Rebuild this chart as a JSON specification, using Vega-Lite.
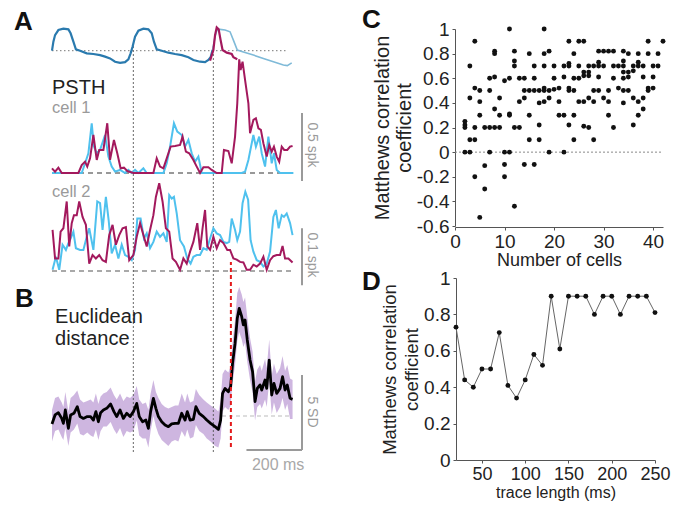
{
"$schema": "https://vega.github.io/schema/vega-lite/v6.json",
"width": 673, "height": 506, "padding": 0, "autosize": {"type": "none"},
"background": "white",
"config": {"font": "Liberation Sans", "view": {"stroke": null}, "axis": {"grid": false}},
"resolve": {"scale": {"x": "independent", "y": "independent"}},
"datasets": {
"a_dark": [{"t":0,"v":0},{"t":5,"v":0.41},{"t":11,"v":0.71},{"t":23,"v":0.94},{"t":41,"v":1.0},{"t":59,"v":0.97},{"t":67,"v":0.79},{"t":77,"v":0.41},{"t":86,"v":0.06},{"t":101,"v":0},{"t":125,"v":-0.12},{"t":149,"v":-0.15},{"t":173,"v":-0.2},{"t":191,"v":-0.27},{"t":209,"v":-0.35},{"t":227,"v":-0.5},{"t":245,"v":-0.55},{"t":263,"v":-0.52},{"t":275,"v":-0.39},{"t":283,"v":-0.12},{"t":290,"v":0.18},{"t":299,"v":0.64},{"t":311,"v":0.91},{"t":329,"v":1.0},{"t":347,"v":0.97},{"t":359,"v":0.79},{"t":367,"v":0.41},{"t":377,"v":0.06},{"t":395,"v":0},{"t":419,"v":-0.09},{"t":443,"v":-0.15},{"t":467,"v":-0.2},{"t":491,"v":-0.3},{"t":509,"v":-0.42},{"t":533,"v":-0.5},{"t":551,"v":-0.52},{"t":563,"v":-0.42},{"t":571,"v":-0.3},{"t":578,"v":0.03}],
"a_light": [{"t":578,"v":0.03},{"t":587,"v":0.64},{"t":593,"v":0.91},{"t":605,"v":0.97},{"t":623,"v":0.94},{"t":641,"v":0.86},{"t":653,"v":0.48},{"t":667,"v":0.03},{"t":689,"v":-0.06},{"t":725,"v":-0.2},{"t":761,"v":-0.35},{"t":797,"v":-0.5},{"t":833,"v":-0.65},{"t":847,"v":-0.68},{"t":863,"v":-0.55}],
"a_mag": [{"t":569,"v":-0.45},{"t":581,"v":0.03},{"t":587,"v":0.71},{"t":593,"v":1.06},{"t":600,"v":0.97},{"t":607,"v":0.48},{"t":614,"v":0.03},{"t":629,"v":-0.09},{"t":647,"v":-0.15},{"t":653,"v":-0.3},{"t":667,"v":-0.39}],
"c1_mag": [{"t":0,"r":0.035},{"t":11,"r":0.01},{"t":23,"r":0.04},{"t":35,"r":0},{"t":95,"r":0},{"t":107,"r":0.06},{"t":119,"r":0.085},{"t":127,"r":0.048},{"t":137,"r":0.11},{"t":149,"r":0.285},{"t":161,"r":0.098},{"t":170,"r":0.173},{"t":185,"r":0.173},{"t":199,"r":0.373},{"t":209,"r":0.098},{"t":223,"r":0.248},{"t":235,"r":0.148},{"t":247,"r":0.035},{"t":259,"r":0.04},{"t":271,"r":0.015},{"t":293,"r":0},{"t":365,"r":0},{"t":377,"r":0.11},{"t":389,"r":0.048},{"t":401,"r":0.035},{"t":413,"r":0.11},{"t":427,"r":0.198},{"t":443,"r":0.203},{"t":461,"r":0.21},{"t":470,"r":0.273},{"t":482,"r":0.16},{"t":494,"r":0.148},{"t":509,"r":0.098},{"t":521,"r":0.048},{"t":533,"r":0},{"t":545,"r":0.043},{"t":563,"r":0.043},{"t":575,"r":0.023},{"t":593,"r":0},{"t":611,"r":0},{"t":619,"r":0.173},{"t":635,"r":0.165},{"t":647,"r":0.073},{"t":659,"r":0.273},{"t":667,"r":0.523},{"t":674,"r":0.853},{"t":679,"r":0.773},{"t":686,"r":0.835},{"t":695,"r":0.698},{"t":707,"r":0.523},{"t":713,"r":0.298},{"t":725,"r":0.398},{"t":734,"r":0.41},{"t":743,"r":0.335},{"t":752,"r":0.323},{"t":761,"r":0.223},{"t":773,"r":0.123},{"t":782,"r":0.21},{"t":791,"r":0.16},{"t":799,"r":0.198},{"t":809,"r":0.123},{"t":818,"r":0.085},{"t":827,"r":0.198},{"t":836,"r":0.173},{"t":847,"r":0.173},{"t":857,"r":0.198},{"t":866,"r":0.203}],
"c1_cyan": [{"t":0,"r":0},{"t":107,"r":0},{"t":119,"r":0.073},{"t":131,"r":0.148},{"t":143,"r":0.373},{"t":151,"r":0.198},{"t":161,"r":0.148},{"t":173,"r":0.173},{"t":191,"r":0.285},{"t":203,"r":0.123},{"t":215,"r":0.048},{"t":227,"r":0.01},{"t":245,"r":0.023},{"t":263,"r":0},{"t":275,"r":0.023},{"t":287,"r":0},{"t":299,"r":0.023},{"t":311,"r":0},{"t":329,"r":0.035},{"t":341,"r":0},{"t":401,"r":0},{"t":413,"r":0.073},{"t":425,"r":0.198},{"t":439,"r":0.373},{"t":451,"r":0.31},{"t":467,"r":0.285},{"t":479,"r":0.198},{"t":491,"r":0.248},{"t":503,"r":0.148},{"t":515,"r":0.085},{"t":527,"r":0.123},{"t":539,"r":0},{"t":683,"r":0},{"t":695,"r":0.01},{"t":707,"r":0.098},{"t":725,"r":0.285},{"t":734,"r":0.198},{"t":746,"r":0.273},{"t":755,"r":0.148},{"t":767,"r":0.048},{"t":779,"r":0.273},{"t":791,"r":0.073},{"t":799,"r":0.148},{"t":809,"r":0.023},{"t":821,"r":0},{"t":869,"r":0}],
"c2_mag": [{"t":2,"r":0.072},{"t":11,"r":0.022},{"t":23,"r":0.022},{"t":31,"r":0.069},{"t":41,"r":0.075},{"t":53,"r":0.122},{"t":62,"r":0.043},{"t":71,"r":0.084},{"t":79,"r":0.098},{"t":89,"r":0.098},{"t":98,"r":0.122},{"t":110,"r":0.095},{"t":122,"r":0.081},{"t":134,"r":0.013},{"t":146,"r":0.028},{"t":158,"r":0.022},{"t":170,"r":0.028},{"t":182,"r":0.019},{"t":194,"r":0.016},{"t":206,"r":0.063},{"t":218,"r":0.081},{"t":230,"r":0.046},{"t":242,"r":0.063},{"t":254,"r":0.075},{"t":266,"r":0.077},{"t":278,"r":0.019},{"t":293,"r":0.028},{"t":305,"r":0.06},{"t":317,"r":0.084},{"t":329,"r":0.063},{"t":341,"r":0.043},{"t":353,"r":0.072},{"t":365,"r":0.098},{"t":374,"r":0.13},{"t":386,"r":0.154},{"t":398,"r":0.122},{"t":410,"r":0.075},{"t":422,"r":0.069},{"t":434,"r":0.022},{"t":446,"r":0.016},{"t":461,"r":0.002},{"t":473,"r":0.022},{"t":485,"r":0.013},{"t":497,"r":0.034},{"t":509,"r":0.051},{"t":523,"r":0.084},{"t":533,"r":0.037},{"t":542,"r":0.075},{"t":551,"r":0.107},{"t":559,"r":0.043},{"t":569,"r":0.037},{"t":581,"r":0.06},{"t":593,"r":0.04},{"t":605,"r":0.054},{"t":617,"r":0.049},{"t":631,"r":0.037},{"t":641,"r":0.037},{"t":653,"r":0.022},{"t":665,"r":0.02},{"t":677,"r":0.016},{"t":689,"r":0.015},{"t":701,"r":0.002},{"t":713,"r":0.002},{"t":725,"r":0.011},{"t":737,"r":0.008},{"t":749,"r":0.013},{"t":761,"r":0.025},{"t":773,"r":0.002},{"t":785,"r":0.019},{"t":797,"r":0.026},{"t":809,"r":0.028},{"t":821,"r":0.028},{"t":830,"r":0.044},{"t":839,"r":0.022},{"t":851,"r":0.022},{"t":866,"r":0.015}],
"c2_cyan": [{"t":2,"r":0.002},{"t":14,"r":0.025},{"t":26,"r":0.002},{"t":38,"r":0.046},{"t":50,"r":0.037},{"t":59,"r":0.049},{"t":67,"r":0.057},{"t":77,"r":0.069},{"t":86,"r":0.04},{"t":101,"r":0.037},{"t":113,"r":0.037},{"t":125,"r":0.06},{"t":134,"r":0.075},{"t":149,"r":0.037},{"t":163,"r":0.122},{"t":173,"r":0.119},{"t":182,"r":0.072},{"t":194,"r":0.13},{"t":204,"r":0.089},{"t":215,"r":0.031},{"t":227,"r":0.046},{"t":239,"r":0.022},{"t":251,"r":0.046},{"t":263,"r":0.028},{"t":275,"r":0.025},{"t":287,"r":0.019},{"t":299,"r":0.037},{"t":307,"r":0.092},{"t":319,"r":0.092},{"t":331,"r":0.057},{"t":341,"r":0.066},{"t":353,"r":0.04},{"t":365,"r":0.051},{"t":377,"r":0.069},{"t":389,"r":0.06},{"t":401,"r":0.066},{"t":413,"r":0.051},{"t":422,"r":0.133},{"t":431,"r":0.127},{"t":439,"r":0.13},{"t":449,"r":0.101},{"t":461,"r":0.054},{"t":475,"r":0.043},{"t":487,"r":0.022},{"t":499,"r":0.013},{"t":509,"r":0.025},{"t":521,"r":0.028},{"t":533,"r":0.028},{"t":545,"r":0.04},{"t":557,"r":0.037},{"t":569,"r":0.057},{"t":581,"r":0.075},{"t":593,"r":0.066},{"t":605,"r":0.063},{"t":617,"r":0.051},{"t":629,"r":0.049},{"t":638,"r":0.051},{"t":647,"r":0.092},{"t":659,"r":0.072},{"t":667,"r":0.054},{"t":677,"r":0.069},{"t":686,"r":0.119},{"t":696,"r":0.139},{"t":706,"r":0.125},{"t":715,"r":0.054},{"t":725,"r":0.034},{"t":737,"r":0.019},{"t":749,"r":0.016},{"t":761,"r":0.008},{"t":773,"r":0.013},{"t":785,"r":0.034},{"t":797,"r":0.095},{"t":806,"r":0.107},{"t":816,"r":0.075},{"t":827,"r":0.098},{"t":835,"r":0.095},{"t":845,"r":0.101},{"t":857,"r":0.084},{"t":866,"r":0.063}],
"bdist": [{"t":0,"v":-0.53,"lo":-1.7,"hi":0.4},{"t":11,"v":0.07,"lo":-1.0,"hi":1.2},{"t":23,"v":0.22,"lo":-0.9,"hi":1.3},{"t":35,"v":-0.16,"lo":-1.4,"hi":0.9},{"t":41,"v":-0.49,"lo":-1.6,"hi":0.6},{"t":48,"v":0.4,"lo":-0.8,"hi":1.6},{"t":59,"v":-0.82,"lo":-2.0,"hi":0.3},{"t":67,"v":0.07,"lo":-1.1,"hi":1.2},{"t":79,"v":0.18,"lo":-0.9,"hi":1.4},{"t":91,"v":0.62,"lo":-0.5,"hi":1.7},{"t":101,"v":-0.04,"lo":-1.2,"hi":1.1},{"t":113,"v":-0.16,"lo":-1.3,"hi":0.9},{"t":127,"v":-0.04,"lo":-1.1,"hi":1.0},{"t":139,"v":-0.04,"lo":-1.3,"hi":1.1},{"t":149,"v":-0.27,"lo":-1.4,"hi":0.9},{"t":158,"v":0.29,"lo":-0.9,"hi":1.5},{"t":167,"v":-0.38,"lo":-1.6,"hi":0.8},{"t":175,"v":0.22,"lo":-1.0,"hi":1.3},{"t":185,"v":0.4,"lo":-0.7,"hi":1.5},{"t":197,"v":0.51,"lo":-0.7,"hi":1.6},{"t":211,"v":0.8,"lo":-0.4,"hi":1.9},{"t":223,"v":0.29,"lo":-0.9,"hi":1.4},{"t":233,"v":-0.04,"lo":-1.2,"hi":1.1},{"t":245,"v":0.4,"lo":-0.8,"hi":1.5},{"t":257,"v":-0.16,"lo":-1.4,"hi":1.0},{"t":269,"v":0.18,"lo":-1.0,"hi":1.3},{"t":281,"v":-0.04,"lo":-1.1,"hi":1.2},{"t":293,"v":0.29,"lo":-1.0,"hi":1.4},{"t":305,"v":0.84,"lo":-0.3,"hi":2.0},{"t":314,"v":-0.04,"lo":-1.3,"hi":1.1},{"t":326,"v":-0.38,"lo":-1.5,"hi":0.8},{"t":338,"v":-0.27,"lo":-1.5,"hi":0.9},{"t":347,"v":-0.82,"lo":-2.1,"hi":0.4},{"t":355,"v":0.29,"lo":-1.0,"hi":1.5},{"t":365,"v":1.18,"lo":0.0,"hi":2.4},{"t":374,"v":0.51,"lo":-0.7,"hi":1.6},{"t":383,"v":-0.04,"lo":-1.2,"hi":1.2},{"t":395,"v":-0.38,"lo":-1.6,"hi":0.8},{"t":407,"v":-0.6,"lo":-1.8,"hi":0.6},{"t":419,"v":-0.71,"lo":-2.0,"hi":0.5},{"t":431,"v":-0.53,"lo":-1.7,"hi":0.6},{"t":443,"v":-0.49,"lo":-1.6,"hi":0.7},{"t":455,"v":-0.49,"lo":-1.7,"hi":0.7},{"t":467,"v":0.18,"lo":-1.0,"hi":1.5},{"t":479,"v":-0.27,"lo":-1.4,"hi":0.9},{"t":487,"v":0.29,"lo":-0.9,"hi":1.5},{"t":497,"v":-0.27,"lo":-1.5,"hi":0.9},{"t":509,"v":-0.22,"lo":-1.4,"hi":1.0},{"t":518,"v":0.62,"lo":-0.6,"hi":1.8},{"t":530,"v":0.18,"lo":-1.0,"hi":1.4},{"t":545,"v":-0.04,"lo":-1.2,"hi":1.1},{"t":557,"v":-0.27,"lo":-1.5,"hi":0.9},{"t":571,"v":-0.49,"lo":-1.7,"hi":0.7},{"t":587,"v":-0.71,"lo":-2.0,"hi":0.5},{"t":599,"v":-0.89,"lo":-2.1,"hi":0.3},{"t":607,"v":-0.27,"lo":-1.5,"hi":1.0},{"t":614,"v":1.51,"lo":0.3,"hi":2.8},{"t":623,"v":1.84,"lo":0.6,"hi":3.1},{"t":635,"v":1.62,"lo":0.4,"hi":2.9},{"t":643,"v":1.96,"lo":0.7,"hi":3.3},{"t":650,"v":3.51,"lo":2.2,"hi":4.9},{"t":659,"v":4.84,"lo":3.4,"hi":6.4},{"t":667,"v":6.51,"lo":5.0,"hi":8.2},{"t":674,"v":7.18,"lo":5.6,"hi":8.6},{"t":683,"v":6.62,"lo":5.1,"hi":8.1},{"t":689,"v":6.07,"lo":4.6,"hi":7.6},{"t":695,"v":6.4,"lo":4.9,"hi":7.9},{"t":703,"v":5.07,"lo":3.6,"hi":6.6},{"t":713,"v":3.73,"lo":2.4,"hi":5.2},{"t":722,"v":2.96,"lo":1.6,"hi":4.3},{"t":731,"v":0.96,"lo":-0.3,"hi":2.3},{"t":739,"v":1.84,"lo":0.6,"hi":3.1},{"t":749,"v":2.07,"lo":0.8,"hi":3.4},{"t":755,"v":1.73,"lo":0.5,"hi":3.0},{"t":767,"v":2.4,"lo":1.1,"hi":3.8},{"t":773,"v":1.84,"lo":0.6,"hi":3.2},{"t":782,"v":3.73,"lo":2.3,"hi":5.1},{"t":791,"v":1.4,"lo":0.1,"hi":2.7},{"t":799,"v":2.18,"lo":0.9,"hi":3.5},{"t":809,"v":1.51,"lo":0.2,"hi":2.8},{"t":821,"v":1.84,"lo":0.6,"hi":3.2},{"t":830,"v":2.62,"lo":1.2,"hi":4.0},{"t":839,"v":1.73,"lo":0.4,"hi":3.0},{"t":847,"v":2.07,"lo":0.8,"hi":3.4},{"t":857,"v":1.18,"lo":-0.2,"hi":2.5},{"t":866,"v":1.11,"lo":-0.2,"hi":2.4}],
"cc": [{"n":11,"m":1.0},{"n":18,"m":1.0},{"n":4,"m":0.9},{"n":23,"m":0.9},{"n":25,"m":0.9},{"n":26,"m":0.9},{"n":39,"m":0.9},{"n":42,"m":0.9},{"n":8,"m":0.82},{"n":8,"m":0.8},{"n":12,"m":0.82},{"n":15,"m":0.8},{"n":18,"m":0.8},{"n":19,"m":0.82},{"n":24,"m":0.8},{"n":29,"m":0.82},{"n":30,"m":0.82},{"n":31,"m":0.82},{"n":32,"m":0.82},{"n":34,"m":0.82},{"n":35,"m":0.8},{"n":37,"m":0.8},{"n":39,"m":0.8},{"n":41,"m":0.8},{"n":12,"m":0.74},{"n":23,"m":0.72},{"n":29,"m":0.73},{"n":34,"m":0.74},{"n":37,"m":0.73},{"n":3,"m":0.7},{"n":12,"m":0.7},{"n":16,"m":0.7},{"n":18,"m":0.7},{"n":20,"m":0.7},{"n":22,"m":0.7},{"n":23,"m":0.7},{"n":25,"m":0.7},{"n":27,"m":0.7},{"n":28,"m":0.7},{"n":29,"m":0.7},{"n":30,"m":0.7},{"n":32,"m":0.7},{"n":33,"m":0.7},{"n":34,"m":0.7},{"n":36,"m":0.7},{"n":37,"m":0.7},{"n":38,"m":0.7},{"n":40,"m":0.7},{"n":41,"m":0.7},{"n":26,"m":0.65},{"n":27,"m":0.65},{"n":34,"m":0.65},{"n":35,"m":0.65},{"n":36,"m":0.66},{"n":7,"m":0.6},{"n":8,"m":0.61},{"n":10,"m":0.58},{"n":11,"m":0.6},{"n":13,"m":0.6},{"n":14,"m":0.6},{"n":16,"m":0.6},{"n":20,"m":0.6},{"n":22,"m":0.61},{"n":24,"m":0.6},{"n":25,"m":0.6},{"n":26,"m":0.62},{"n":27,"m":0.62},{"n":29,"m":0.61},{"n":32,"m":0.6},{"n":34,"m":0.6},{"n":35,"m":0.61},{"n":38,"m":0.61},{"n":40,"m":0.61},{"n":4,"m":0.52},{"n":5,"m":0.5},{"n":7,"m":0.5},{"n":14,"m":0.5},{"n":15,"m":0.5},{"n":16,"m":0.5},{"n":17,"m":0.5},{"n":18,"m":0.52},{"n":18,"m":0.5},{"n":19,"m":0.5},{"n":20,"m":0.51},{"n":21,"m":0.52},{"n":23,"m":0.52},{"n":23,"m":0.5},{"n":24,"m":0.5},{"n":28,"m":0.5},{"n":29,"m":0.5},{"n":31,"m":0.5},{"n":33,"m":0.52},{"n":34,"m":0.5},{"n":35,"m":0.5},{"n":39,"m":0.52},{"n":39,"m":0.5},{"n":40,"m":0.52},{"n":3,"m":0.44},{"n":5,"m":0.41},{"n":9,"m":0.44},{"n":13,"m":0.41},{"n":14,"m":0.44},{"n":17,"m":0.4},{"n":18,"m":0.41},{"n":19,"m":0.44},{"n":21,"m":0.41},{"n":25,"m":0.41},{"n":26,"m":0.41},{"n":27,"m":0.44},{"n":28,"m":0.41},{"n":30,"m":0.44},{"n":31,"m":0.41},{"n":34,"m":0.4},{"n":36,"m":0.44},{"n":37,"m":0.41},{"n":38,"m":0.44},{"n":8,"m":0.35},{"n":38,"m":0.35},{"n":5,"m":0.3},{"n":9,"m":0.3},{"n":11,"m":0.31},{"n":11,"m":0.3},{"n":15,"m":0.3},{"n":21,"m":0.3},{"n":22,"m":0.3},{"n":24,"m":0.3},{"n":31,"m":0.3},{"n":37,"m":0.3},{"n":2,"m":0.25},{"n":2,"m":0.22},{"n":2,"m":0.2},{"n":17,"m":0.22},{"n":23,"m":0.22},{"n":26,"m":0.21},{"n":36,"m":0.22},{"n":4,"m":0.2},{"n":6,"m":0.2},{"n":7,"m":0.2},{"n":8,"m":0.2},{"n":9,"m":0.2},{"n":12,"m":0.2},{"n":13,"m":0.2},{"n":27,"m":0.2},{"n":32,"m":0.2},{"n":3,"m":0.1},{"n":4,"m":0.1},{"n":15,"m":0.1},{"n":17,"m":0.1},{"n":24,"m":0.1},{"n":28,"m":0.1},{"n":2,"m":0},{"n":3,"m":0},{"n":7,"m":0},{"n":10,"m":0},{"n":11,"m":0},{"n":19,"m":0},{"n":22,"m":0},{"n":6,"m":-0.11},{"n":10,"m":-0.1},{"n":14,"m":-0.1},{"n":16,"m":-0.1},{"n":4,"m":-0.2},{"n":10,"m":-0.2},{"n":6,"m":-0.3},{"n":12,"m":-0.44},{"n":5,"m":-0.53}],
"dd": [{"L":20,"m":0.73},{"L":30,"m":0.44},{"L":40,"m":0.4},{"L":50,"m":0.5},{"L":60,"m":0.5},{"L":70,"m":0.7},{"L":80,"m":0.41},{"L":90,"m":0.34},{"L":100,"m":0.44},{"L":110,"m":0.58},{"L":120,"m":0.52},{"L":130,"m":0.9},{"L":140,"m":0.61},{"L":150,"m":0.9},{"L":160,"m":0.9},{"L":170,"m":0.9},{"L":180,"m":0.8},{"L":190,"m":0.9},{"L":200,"m":0.9},{"L":210,"m":0.8},{"L":220,"m":0.9},{"L":230,"m":0.9},{"L":240,"m":0.9},{"L":250,"m":0.81}]
},
"layer": [
{"data":{"name":"bdist"},"mark":{"type":"area","color":"#c6a9da","opacity":0.85},
 "encoding":{"x":{"field":"t","type":"quantitative","scale":{"domain":[0,900],"range":[52,302],"nice":false,"zero":false},"axis":null},
  "y":{"field":"lo","type":"quantitative","scale":{"domain":[0,5],"range":[416,341],"nice":false,"zero":false},"axis":null},"y2":{"field":"hi"}}},
{"data":{"values":[{"t0":612,"t1":857}]},"mark":{"type":"rule","color":"#bbbbbb","strokeDash":[4,3],"strokeWidth":1},
 "encoding":{"x":{"field":"t0","type":"quantitative","scale":{"domain":[0,900],"range":[52,302],"nice":false,"zero":false},"axis":null},"x2":{"field":"t1"},
  "y":{"datum":0,"type":"quantitative","scale":{"domain":[0,5],"range":[416,341],"nice":false,"zero":false},"axis":null}}},
{"data":{"values":[{"t":293},{"t":581}]},"mark":{"type":"rule","color":"#555555","strokeDash":[1.5,2.5],"strokeWidth":1.2},
 "encoding":{"x":{"field":"t","type":"quantitative","scale":{"domain":[0,900],"range":[52,302],"nice":false,"zero":false},"axis":null},
  "y":{"datum":-2.38,"type":"quantitative","scale":{"domain":[0,5],"range":[416,341],"nice":false,"zero":false},"axis":null},"y2":{"datum":24.7}}},
{"data":{"name":"bdist"},"mark":{"type":"line","color":"#000000","strokeWidth":2.8,"strokeJoin":"round"},
 "encoding":{"x":{"field":"t","type":"quantitative","scale":{"domain":[0,900],"range":[52,302],"nice":false,"zero":false},"axis":null},
  "y":{"field":"v","type":"quantitative","scale":{"domain":[0,5],"range":[416,341],"nice":false,"zero":false},"axis":null}}},
{"data":{"values":[{"t":644}]},"mark":{"type":"rule","color":"#e31a1c","strokeDash":[4,3],"strokeWidth":2},
 "encoding":{"x":{"field":"t","type":"quantitative","scale":{"domain":[0,900],"range":[52,302],"nice":false,"zero":false},"axis":null},
  "y":{"datum":-2.07,"type":"quantitative","scale":{"domain":[0,5],"range":[416,341],"nice":false,"zero":false},"axis":null},"y2":{"datum":10.27}}},
{"data":{"values":[{"t0":0,"t1":845}]},"mark":{"type":"rule","color":"#777777","strokeDash":[1.5,2.5],"strokeWidth":1},
 "encoding":{"x":{"field":"t0","type":"quantitative","scale":{"domain":[0,900],"range":[52,302],"nice":false,"zero":false},"axis":null},"x2":{"field":"t1"},
  "y":{"datum":0,"type":"quantitative","scale":{"domain":[-1,1],"range":[72.7,28.7],"nice":false,"zero":false},"axis":null}}},
{"data":{"name":"a_light"},"mark":{"type":"line","color":"#7fbad8","strokeWidth":1.6},
 "encoding":{"x":{"field":"t","type":"quantitative","scale":{"domain":[0,900],"range":[52,302],"nice":false,"zero":false},"axis":null},
  "y":{"field":"v","type":"quantitative","scale":{"domain":[-1,1],"range":[72.7,28.7],"nice":false,"zero":false},"axis":null}}},
{"data":{"name":"a_dark"},"mark":{"type":"line","color":"#2a7aae","strokeWidth":2.2},
 "encoding":{"x":{"field":"t","type":"quantitative","scale":{"domain":[0,900],"range":[52,302],"nice":false,"zero":false},"axis":null},
  "y":{"field":"v","type":"quantitative","scale":{"domain":[-1,1],"range":[72.7,28.7],"nice":false,"zero":false},"axis":null}}},
{"data":{"name":"a_mag"},"mark":{"type":"line","color":"#a3195d","strokeWidth":2.2},
 "encoding":{"x":{"field":"t","type":"quantitative","scale":{"domain":[0,900],"range":[52,302],"nice":false,"zero":false},"axis":null},
  "y":{"field":"v","type":"quantitative","scale":{"domain":[-1,1],"range":[72.7,28.7],"nice":false,"zero":false},"axis":null}}},
{"data":{"values":[{"t0":0,"t1":871}]},"mark":{"type":"rule","color":"#333333","strokeDash":[5,4],"strokeWidth":1.2},
 "encoding":{"x":{"field":"t0","type":"quantitative","scale":{"domain":[0,900],"range":[52,302],"nice":false,"zero":false},"axis":null},"x2":{"field":"t1"},
  "y":{"datum":0,"type":"quantitative","scale":{"domain":[0,1],"range":[173,39.67],"nice":false,"zero":false},"axis":null}}},
{"data":{"name":"c1_cyan"},"mark":{"type":"line","color":"#4fc1ee","strokeWidth":2},
 "encoding":{"x":{"field":"t","type":"quantitative","scale":{"domain":[0,900],"range":[52,302],"nice":false,"zero":false},"axis":null},
  "y":{"field":"r","type":"quantitative","scale":{"domain":[0,1],"range":[173,39.67],"nice":false,"zero":false},"axis":null}}},
{"data":{"name":"c1_mag"},"mark":{"type":"line","color":"#a3195d","strokeWidth":2},
 "encoding":{"x":{"field":"t","type":"quantitative","scale":{"domain":[0,900],"range":[52,302],"nice":false,"zero":false},"axis":null},
  "y":{"field":"r","type":"quantitative","scale":{"domain":[0,1],"range":[173,39.67],"nice":false,"zero":false},"axis":null}}},
{"data":{"values":[{"t0":0,"t1":871}]},"mark":{"type":"rule","color":"#555555","strokeDash":[5,4],"strokeWidth":1.2},
 "encoding":{"x":{"field":"t0","type":"quantitative","scale":{"domain":[0,900],"range":[52,302],"nice":false,"zero":false},"axis":null},"x2":{"field":"t1"},
  "y":{"datum":0,"type":"quantitative","scale":{"domain":[0,0.1],"range":[271,214],"nice":false,"zero":false},"axis":null}}},
{"data":{"name":"c2_cyan"},"mark":{"type":"line","color":"#4fc1ee","strokeWidth":2},
 "encoding":{"x":{"field":"t","type":"quantitative","scale":{"domain":[0,900],"range":[52,302],"nice":false,"zero":false},"axis":null},
  "y":{"field":"r","type":"quantitative","scale":{"domain":[0,0.1],"range":[271,214],"nice":false,"zero":false},"axis":null}}},
{"data":{"name":"c2_mag"},"mark":{"type":"line","color":"#a3195d","strokeWidth":2},
 "encoding":{"x":{"field":"t","type":"quantitative","scale":{"domain":[0,900],"range":[52,302],"nice":false,"zero":false},"axis":null},
  "y":{"field":"r","type":"quantitative","scale":{"domain":[0,0.1],"range":[271,214],"nice":false,"zero":false},"axis":null}}},
{"data":{"values":[{"t":900}]},"mark":{"type":"rule","color":"#9a9a9a","strokeWidth":2},
 "encoding":{"x":{"field":"t","type":"quantitative","scale":{"domain":[0,900],"range":[52,302],"nice":false,"zero":false},"axis":null},
  "y":{"datum":-0.06,"type":"quantitative","scale":{"domain":[0,1],"range":[173,39.67],"nice":false,"zero":false},"axis":null},"y2":{"datum":0.45}}},
{"data":{"values":[{"t":900}]},"mark":{"type":"rule","color":"#9a9a9a","strokeWidth":2},
 "encoding":{"x":{"field":"t","type":"quantitative","scale":{"domain":[0,900],"range":[52,302],"nice":false,"zero":false},"axis":null},
  "y":{"datum":-0.025,"type":"quantitative","scale":{"domain":[0,0.1],"range":[271,214],"nice":false,"zero":false},"axis":null},"y2":{"datum":0.075}}},
{"data":{"values":[{"t":900}]},"mark":{"type":"rule","color":"#9a9a9a","strokeWidth":2},
 "encoding":{"x":{"field":"t","type":"quantitative","scale":{"domain":[0,900],"range":[52,302],"nice":false,"zero":false},"axis":null},
  "y":{"datum":-2.27,"type":"quantitative","scale":{"domain":[0,5],"range":[416,341],"nice":false,"zero":false},"axis":null},"y2":{"datum":2.73}}},
{"data":{"values":[{"t0":700,"t1":900}]},"mark":{"type":"rule","color":"#9a9a9a","strokeWidth":2},
 "encoding":{"x":{"field":"t0","type":"quantitative","scale":{"domain":[0,900],"range":[52,302],"nice":false,"zero":false},"axis":null},"x2":{"field":"t1"},
  "y":{"datum":-2.27,"type":"quantitative","scale":{"domain":[0,5],"range":[416,341],"nice":false,"zero":false},"axis":null}}},
{"data":{"values":[{"t":0,"r":0.593,"s":"PSTH"}]},"mark":{"type":"text","align":"left","baseline":"alphabetic","fontSize":20,"color":"#222222"},
 "encoding":{"x":{"field":"t","type":"quantitative","scale":{"domain":[0,900],"range":[52,302],"nice":false,"zero":false},"axis":null},
  "y":{"field":"r","type":"quantitative","scale":{"domain":[0,1],"range":[173,39.67],"nice":false,"zero":false},"axis":null},"text":{"field":"s"}}},
{"data":{"values":[{"t":0,"r":0.45,"s":"cell 1"}]},"mark":{"type":"text","align":"left","baseline":"alphabetic","fontSize":16.5,"color":"#9a9a9a"},
 "encoding":{"x":{"field":"t","type":"quantitative","scale":{"domain":[0,900],"range":[52,302],"nice":false,"zero":false},"axis":null},
  "y":{"field":"r","type":"quantitative","scale":{"domain":[0,1],"range":[173,39.67],"nice":false,"zero":false},"axis":null},"text":{"field":"s"}}},
{"data":{"values":[{"t":936,"r":0.21,"s":"0.5 spk"}]},"mark":{"type":"text","align":"center","baseline":"middle","angle":90,"fontSize":14,"color":"#9a9a9a"},
 "encoding":{"x":{"field":"t","type":"quantitative","scale":{"domain":[0,900],"range":[52,302],"nice":false,"zero":false},"axis":null},
  "y":{"field":"r","type":"quantitative","scale":{"domain":[0,1],"range":[173,39.67],"nice":false,"zero":false},"axis":null},"text":{"field":"s"}}},
{"data":{"values":[{"t":0,"r":0.13,"s":"cell 2"}]},"mark":{"type":"text","align":"left","baseline":"alphabetic","fontSize":16.5,"color":"#9a9a9a"},
 "encoding":{"x":{"field":"t","type":"quantitative","scale":{"domain":[0,900],"range":[52,302],"nice":false,"zero":false},"axis":null},
  "y":{"field":"r","type":"quantitative","scale":{"domain":[0,0.1],"range":[271,214],"nice":false,"zero":false},"axis":null},"text":{"field":"s"}}},
{"data":{"values":[{"t":936,"r":0.028,"s":"0.1 spk"}]},"mark":{"type":"text","align":"center","baseline":"middle","angle":90,"fontSize":14,"color":"#9a9a9a"},
 "encoding":{"x":{"field":"t","type":"quantitative","scale":{"domain":[0,900],"range":[52,302],"nice":false,"zero":false},"axis":null},
  "y":{"field":"r","type":"quantitative","scale":{"domain":[0,0.1],"range":[271,214],"nice":false,"zero":false},"axis":null},"text":{"field":"s"}}},
{"data":{"values":[{"t":11,"v":6.18,"s":"Euclidean"},{"t":11,"v":4.73,"s":"distance"}]},"mark":{"type":"text","align":"left","baseline":"alphabetic","fontSize":20,"color":"#222222"},
 "encoding":{"x":{"field":"t","type":"quantitative","scale":{"domain":[0,900],"range":[52,302],"nice":false,"zero":false},"axis":null},
  "y":{"field":"v","type":"quantitative","scale":{"domain":[0,5],"range":[416,341],"nice":false,"zero":false},"axis":null},"text":{"field":"s"}}},
{"data":{"values":[{"t":936,"v":0.27,"s":"5 SD"}]},"mark":{"type":"text","align":"center","baseline":"middle","angle":90,"fontSize":14,"color":"#9a9a9a"},
 "encoding":{"x":{"field":"t","type":"quantitative","scale":{"domain":[0,900],"range":[52,302],"nice":false,"zero":false},"axis":null},
  "y":{"field":"v","type":"quantitative","scale":{"domain":[0,5],"range":[416,341],"nice":false,"zero":false},"axis":null},"text":{"field":"s"}}},
{"data":{"values":[{"t":814,"v":-3.6,"s":"200 ms"}]},"mark":{"type":"text","align":"center","baseline":"alphabetic","fontSize":16,"color":"#a8a8a8"},
 "encoding":{"x":{"field":"t","type":"quantitative","scale":{"domain":[0,900],"range":[52,302],"nice":false,"zero":false},"axis":null},
  "y":{"field":"v","type":"quantitative","scale":{"domain":[0,5],"range":[416,341],"nice":false,"zero":false},"axis":null},"text":{"field":"s"}}},
{"data":{"values":[{"t":-137,"v":0.94,"s":"A"}]},"mark":{"type":"text","align":"left","baseline":"alphabetic","fontSize":26,"fontWeight":"bold","color":"#111111"},
 "encoding":{"x":{"field":"t","type":"quantitative","scale":{"domain":[0,900],"range":[52,302],"nice":false,"zero":false},"axis":null},
  "y":{"field":"v","type":"quantitative","scale":{"domain":[-1,1],"range":[72.7,28.7],"nice":false,"zero":false},"axis":null},"text":{"field":"s"}}},
{"data":{"values":[{"t":-133,"v":7.27,"s":"B"}]},"mark":{"type":"text","align":"left","baseline":"alphabetic","fontSize":26,"fontWeight":"bold","color":"#111111"},
 "encoding":{"x":{"field":"t","type":"quantitative","scale":{"domain":[0,900],"range":[52,302],"nice":false,"zero":false},"axis":null},
  "y":{"field":"v","type":"quantitative","scale":{"domain":[0,5],"range":[416,341],"nice":false,"zero":false},"axis":null},"text":{"field":"s"}}},
{"data":{"values":[{"n0":0,"n1":42}]},"mark":{"type":"rule","color":"#888888","strokeDash":[2,2],"strokeWidth":1},
 "encoding":{"x":{"field":"n0","type":"quantitative","scale":{"domain":[0,42],"range":[455,663],"nice":false,"zero":false},"axis":null},"x2":{"field":"n1"},
  "y":{"datum":0,"type":"quantitative","scale":{"domain":[-0.6,1],"range":[226,29],"nice":false,"zero":false},"axis":null}}},
{"data":{"name":"cc"},"mark":{"type":"circle","color":"#111111","size":24,"opacity":1},
 "encoding":{"x":{"field":"n","type":"quantitative","scale":{"domain":[0,42],"range":[455,663],"nice":false,"zero":false},
   "axis":{"orient":"bottom","offset":-279,"values":[0,10,20,30,40],"title":"Number of cells","titleFontSize":18,"titleFontWeight":"normal","titleColor":"#222222","titlePadding":0,"labelFontSize":19,"labelColor":"#222222","labelPadding":2,"domainColor":"#555555","tickColor":"#555555","tickSize":3,"labelFlush":false}},
  "y":{"field":"m","type":"quantitative","scale":{"domain":[-0.6,1],"range":[226,29],"nice":false,"zero":false},
   "axis":{"orient":"left","offset":-455,"values":[-0.6,-0.4,-0.2,0,0.2,0.4,0.6,0.8,1],"labelExpr":"replace(format(datum.value,'~g'),'\u2212','-')","title":["Matthews correlation","coefficient"],"titleFontSize":20,"titleFontWeight":"normal","titleColor":"#222222","titlePadding":2,"titleLineHeight":22,"labelFontSize":19,"labelColor":"#222222","labelPadding":3,"domainColor":"#555555","tickColor":"#555555","tickSize":3,"labelFlush":false}}}},
{"data":{"name":"dd"},"mark":{"type":"line","color":"#666666","strokeWidth":1},
 "encoding":{"x":{"field":"L","type":"quantitative","scale":{"domain":[20,250],"range":[456,655],"nice":false,"zero":false},
   "axis":{"orient":"bottom","offset":-46,"values":[50,100,150,200,250],"title":"trace length (ms)","titleFontSize":16,"titleFontWeight":"normal","titleColor":"#222222","titlePadding":1,"labelFontSize":18,"labelColor":"#222222","labelPadding":2,"domainColor":"#555555","tickColor":"#555555","tickSize":3,"labelFlush":false}},
  "y":{"field":"m","type":"quantitative","scale":{"domain":[0,1],"range":[460,278],"nice":false,"zero":false},
   "axis":{"orient":"left","offset":-456,"values":[0,0.2,0.4,0.6,0.8,1],"labelExpr":"format(datum.value,'~g')","title":["Matthews correlation","coefficient"],"titleFontSize":18.5,"titleFontWeight":"normal","titleColor":"#222222","titlePadding":2,"titleLineHeight":22,"labelFontSize":19,"labelColor":"#222222","labelPadding":3,"domainColor":"#555555","tickColor":"#555555","tickSize":3,"labelFlush":false}}}},
{"data":{"name":"dd"},"mark":{"type":"circle","color":"#111111","size":24,"opacity":1},
 "encoding":{"x":{"field":"L","type":"quantitative","scale":{"domain":[20,250],"range":[456,655],"nice":false,"zero":false},"axis":null},
  "y":{"field":"m","type":"quantitative","scale":{"domain":[0,1],"range":[460,278],"nice":false,"zero":false},"axis":null}}},
{"data":{"values":[{"n":-18.8,"m":1.006,"s":"C"}]},"mark":{"type":"text","align":"left","baseline":"alphabetic","fontSize":26,"fontWeight":"bold","color":"#111111"},
 "encoding":{"x":{"field":"n","type":"quantitative","scale":{"domain":[0,42],"range":[455,663],"nice":false,"zero":false},"axis":null},
  "y":{"field":"m","type":"quantitative","scale":{"domain":[-0.6,1],"range":[226,29],"nice":false,"zero":false},"axis":null},"text":{"field":"s"}}},
{"data":{"values":[{"L":-88.6,"m":0.934,"s":"D"}]},"mark":{"type":"text","align":"left","baseline":"alphabetic","fontSize":26,"fontWeight":"bold","color":"#111111"},
 "encoding":{"x":{"field":"L","type":"quantitative","scale":{"domain":[20,250],"range":[456,655],"nice":false,"zero":false},"axis":null},
  "y":{"field":"m","type":"quantitative","scale":{"domain":[0,1],"range":[460,278],"nice":false,"zero":false},"axis":null},"text":{"field":"s"}}}
]
}
